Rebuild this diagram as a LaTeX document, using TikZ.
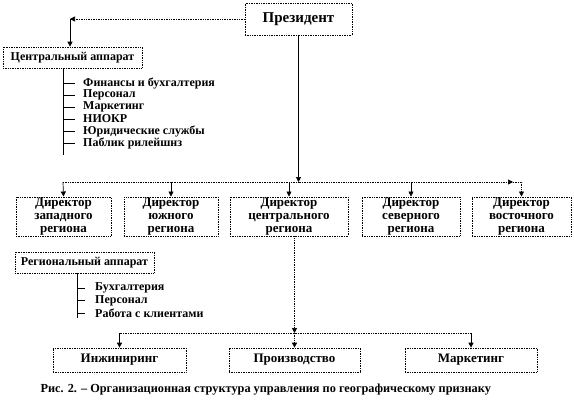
\documentclass[tikz,border=0pt]{standalone}
\usepackage{fontspec}
\setmainfont{Liberation Serif}
\usetikzlibrary{arrows.meta,positioning}

\begin{document}
\begin{tikzpicture}[x=1pt,y=-1pt,font=\bfseries\fontsize{12}{13}\selectfont,
  blk/.style={draw,densely dotted,line width=0.7pt,align=center,inner sep=1pt},
  big/.style={font=\bfseries\fontsize{13}{13}\selectfont},
  arr/.style={-{Triangle[length=5pt,width=5pt]},line width=0.7pt},
  item/.style={anchor=west,inner sep=0pt}]
\useasboundingbox (0,0) rectangle (574,408);
% top
\node[blk,minimum width=107pt,minimum height=32pt,font=\bfseries\fontsize{15}{16}\selectfont] (pres) at (298.5,19) {Президент};
\node[blk,minimum width=139pt,minimum height=21pt] (capp) at (72.5,57.5) {Центральный аппарат};
\coordinate (kn) at (70,19);
\draw[arr,densely dotted] (pres.west) -- (kn);
\draw[arr] (kn) -- (kn |- capp.north);
% central staff
\coordinate (cl) at (63,68);
\node[item] (c1) at (83,83) {Финансы и бухгалтерия};
\node[item] (c2) at (83,95) {Персонал};
\node[item] (c3) at (83,107) {Маркетинг};
\node[item] (c4) at (83,119) {НИОКР};
\node[item] (c5) at (83,131) {Юридические службы};
\node[item] (c6) at (83,143) {Паблик рилейшнз};
\draw[line width=0.7pt] (cl) -- (63,155);
\foreach \n in {c1,c2,c3,c4,c5,c6}
  \draw[line width=0.7pt] (\n.west -| cl) -- ++(12,0);
% directors
\node[blk,big,minimum width=95pt,minimum height=39pt] (zap) at (63.5,216.5) {Директор\\западного\\региона};
\node[blk,big,minimum width=94pt,minimum height=39pt] (yuzh) at (171,216.5) {Директор\\южного\\региона};
\node[blk,big,minimum width=118pt,minimum height=39pt] (cen) at (289,216.5) {Директор\\центрального\\региона};
\node[blk,big,minimum width=98pt,minimum height=39pt] (sev) at (411,216.5) {Директор\\северного\\региона};
\node[blk,big,minimum width=99pt,minimum height=39pt] (vost) at (521.5,216.5) {Директор\\восточного\\региона};
\coordinate (hl) at (63,182);
\coordinate (hr) at (513,182);
\draw[arr] (pres) -- (pres |- hl);
\draw[densely dotted,line width=0.7pt] (hl) -- (pres |- hl);
\draw[arr,densely dotted] (pres |- hl) -- (hr);
\draw[arr,densely dotted] (hr) -| (vost.north);
\draw[arr] (hl) -- (zap.north);
\draw[arr] (yuzh |- hl) -- (yuzh.north);
\draw[arr] (cen |- hl) -- (cen.north);
\draw[arr] (sev |- hl) -- (sev.north);
% regional staff
\node[blk,minimum width=139pt,minimum height=21pt] (rapp) at (84.5,262.5) {Региональный аппарат};
\coordinate (rl) at (77,273);
\node[item] (r1) at (95,288) {Бухгалтерия};
\node[item] (r2) at (95,300.5) {Персонал};
\node[item] (r3) at (95,313) {Работа с клиентами};
\draw[line width=0.7pt] (rl) -- (77,318);
\foreach \n in {r1,r2,r3}
  \draw[line width=0.7pt] (\n.west -| rl) -- ++(8,0);
% functions
\node[blk,big,minimum width=133pt,minimum height=24pt] (inzh) at (119.5,360) {Инжиниринг};
\node[blk,big,minimum width=131pt,minimum height=24pt] (proizv) at (294.5,360) {Производство};
\node[blk,big,minimum width=132pt,minimum height=24pt] (mark) at (471,360) {Маркетинг};
\coordinate (bc) at (294.5,333);
\draw[arr,densely dotted] (proizv |- cen.south) -- (bc);
\draw[densely dotted,line width=0.7pt] (inzh |- bc) -- (mark |- bc);
\draw[arr] (inzh |- bc) -- (inzh.north);
\draw[arr] (mark |- bc) -- (mark.north);
\draw[arr,densely dotted] (bc) -- (proizv.north);
\node[anchor=west,font=\bfseries\fontsize{12.3}{13}\selectfont] (cap) at (37,390) {Рис. 2. – Организационная структура управления по географическому признаку};
\end{tikzpicture}
\end{document}
